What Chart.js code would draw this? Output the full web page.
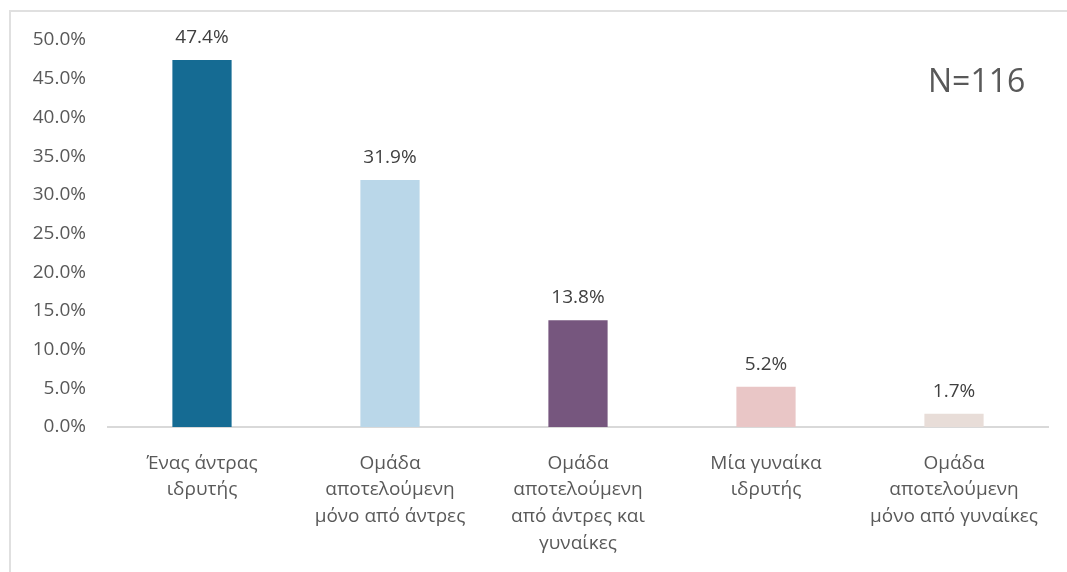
<!DOCTYPE html>
<html>
<head>
<meta charset="utf-8">
<script src="https://cdn.jsdelivr.net/npm/chart.js@4/dist/chart.umd.min.js"></script>
<style>
  html, body { margin: 0; padding: 0; background: #fff; }
  #wrap { position: relative; width: 1067px; height: 572px; }
  #frame { position: absolute; left: 9px; top: 10px; right: -5px; bottom: -5px; border: 2px solid #e0e0e0; }
  #nlabel { position: absolute; left: 928px; top: 58px; font: 32px "Open Sans", sans-serif; color: #595959; }
</style>
</head>
<body>
<div id="wrap">
  <div id="frame"></div>
  <canvas id="myChart" width="1067" height="572"></canvas>
  <div id="nlabel">N=116</div>
</div>
<script>
const d = document;
const ctx = d.getElementById('myChart').getContext('2d');

// κατηγορίες (πολλές γραμμές ανά ετικέτα)
const categories = [
  ['Ένας άντρας', 'ιδρυτής'],
  ['Ομάδα', 'αποτελούμενη', 'μόνο από άντρες'],
  ['Ομάδα', 'αποτελούμενη', 'από άντρες και', 'γυναίκες'],
  ['Μία γυναίκα', 'ιδρυτής'],
  ['Ομάδα', 'αποτελούμενη', 'μόνο από γυναίκες']
];
const values = [47.4, 31.9, 13.8, 5.2, 1.7];
const barColors = ['#156b93', '#bad7e9', '#76567e', '#e9c6c6', '#e8ddd8'];
const yTicks = [0, 5, 10, 15, 20, 25, 30, 35, 40, 45, 50];

// ετικέτες τιμών πάνω από τις μπάρες
const valueLabels = {
  id: 'valueLabels',
  afterDatasetsDraw(chart) {
    const c = chart.ctx;
    const meta = chart.getDatasetMeta(0);
    c.save();
    c.font = '19px "Open Sans", sans-serif';
    c.fillStyle = '#404040';
    c.textAlign = 'center';
    c.textBaseline = 'alphabetic';
    meta.data.forEach((bar, i) => {
      c.fillText(values[i].toFixed(1) + '%', bar.x, bar.y - 17);
    });
    c.restore();
  }
};

const myChart = new Chart(ctx, {
  type: 'bar',
  data: {
    labels: categories,
    datasets: [{
      data: values,
      backgroundColor: barColors,
      categoryPercentage: 1,
      barPercentage: 0.315
    }]
  },
  options: {
    responsive: false,
    animation: false,
    layout: { padding: { top: 40, right: 19, left: 0, bottom: 0 } },
    plugins: { legend: { display: false }, tooltip: { enabled: false } },
    scales: {
      x: {
        grid: { display: false, drawTicks: false },
        border: { color: '#d9d9d9', width: 2 },
        ticks: {
          color: '#595959',
          font: { family: '"Open Sans", sans-serif', size: 19, lineHeight: 1.4 },
          padding: 23,
          maxRotation: 0,
          autoSkip: false
        },
        afterFit: s => { s.height = 145; }
      },
      y: {
        min: 0,
        max: 50,
        grid: { display: false, drawTicks: false },
        border: { display: false },
        afterBuildTicks: s => { s.ticks = yTicks.map(v => ({ value: v })); },
        ticks: {
          color: '#595959',
          font: { family: '"Open Sans", sans-serif', size: 19 },
          padding: 22,
          callback: v => v.toFixed(1) + '%'
        },
        afterFit: s => { s.width = 108; }
      }
    }
  },
  plugins: [valueLabels]
});
</script>
</body>
</html>
